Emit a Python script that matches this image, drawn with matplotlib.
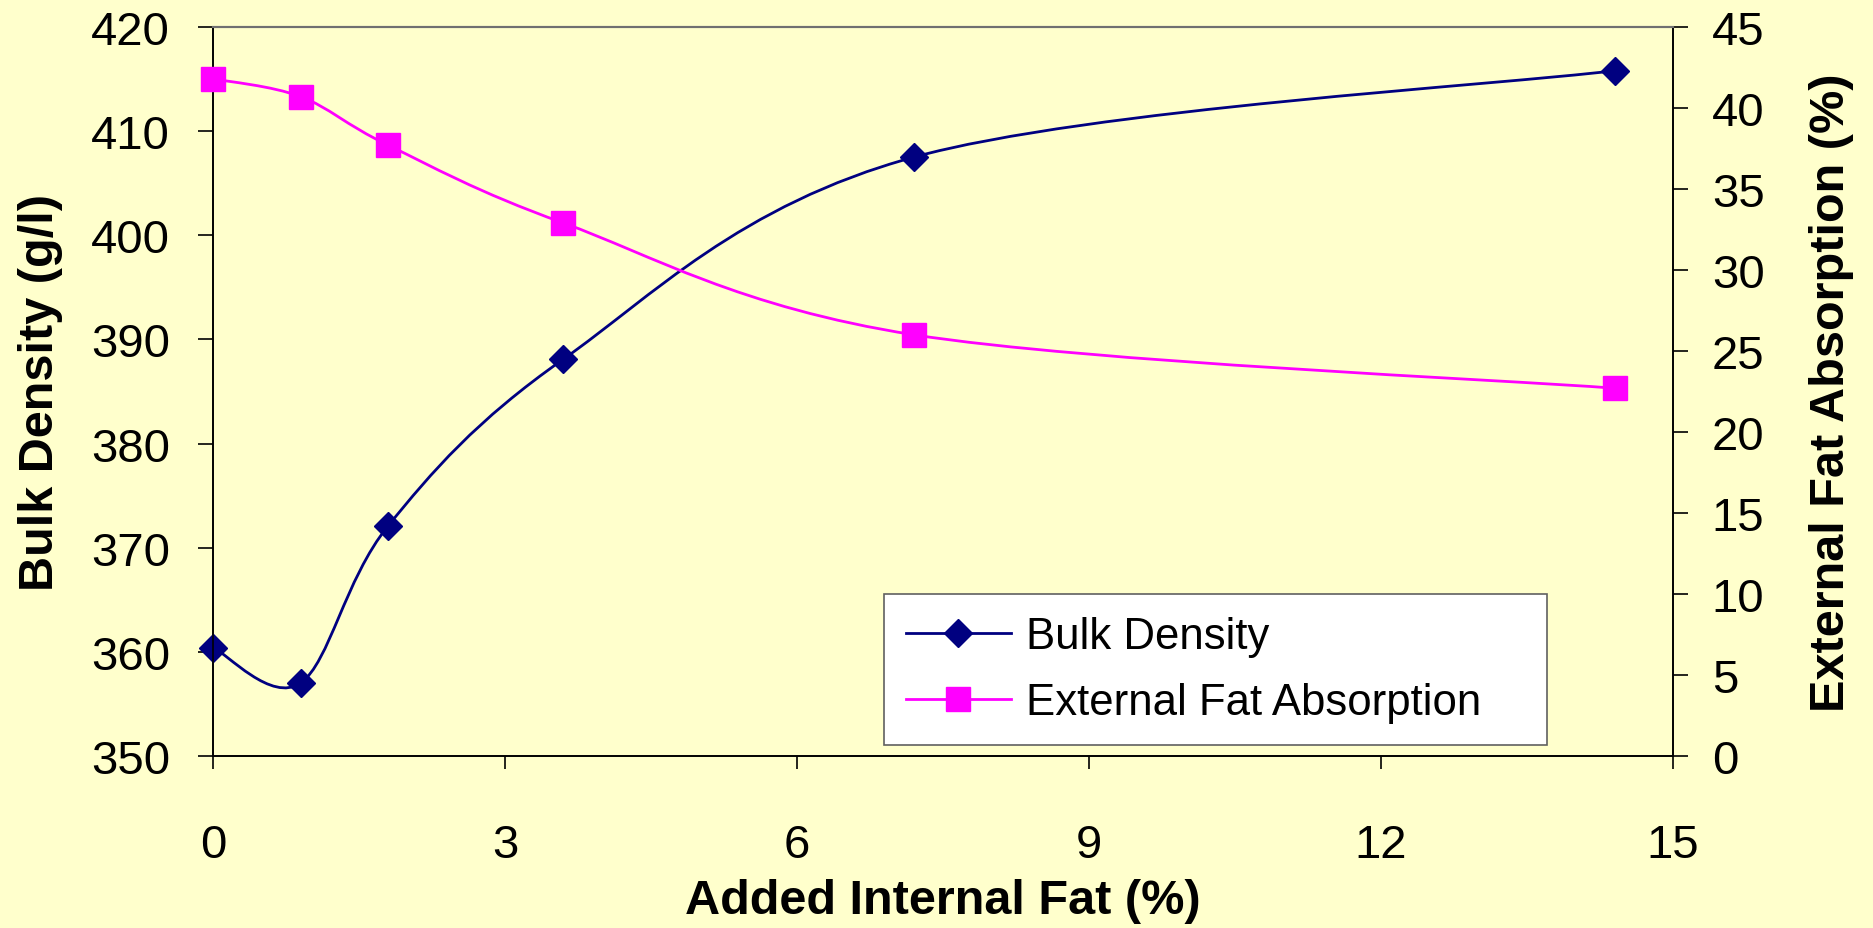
"""
Bulk density and external fat absorption against added internal fat
"""
import matplotlib
matplotlib.use("Agg")
import matplotlib.pyplot as plt
import numpy as np
from matplotlib.path import Path
from matplotlib.patches import PathPatch
from matplotlib.lines import Line2D

plt.rcParams['font.family'] = ['Liberation Sans', 'DejaVu Sans']

# data
internal_fat = [0, 0.9, 1.8, 3.6, 7.2, 14.4]
bulk_density = [360.4, 357.0, 372.1, 388.1, 407.5, 415.8]
fat_absorption = [41.8, 40.7, 37.7, 32.9, 26.0, 22.7]

x_ticks = [0, 3, 6, 9, 12, 15]
left_ticks = [350, 360, 370, 380, 390, 400, 410, 420]
right_ticks = [0, 5, 10, 15, 20, 25, 30, 35, 40, 45]

BG = '#FFFFCC'
NAVY = '#000080'
MAGENTA = '#FF00FF'


def smooth_path(xs, ys):
    # spreadsheet-style smoothed line: cubic bezier through every point
    pts = np.column_stack([xs, ys]).astype(float)
    n = len(pts)
    verts = [pts[0]]
    codes = [Path.MOVETO]
    for i in range(n - 1):
        p_prev = pts[max(i - 1, 0)]
        p0 = pts[i]
        p1 = pts[i + 1]
        p_next = pts[min(i + 2, n - 1)]
        c1 = p0 + (p1 - p_prev) / 6.0
        c2 = p1 - (p_next - p0) / 6.0
        verts += [c1, c2, p1]
        codes += [Path.CURVE4] * 3
    return Path(verts, codes)


fig = plt.figure(figsize=(18.73, 9.29), dpi=100, facecolor=BG)
ax1 = fig.add_axes([0.1137, 0.1852, 0.7795, 0.7847])
ax1.set_facecolor(BG)
ax2 = ax1.twinx()

ax1.set_xlim(0, 15)
ax1.set_ylim(350, 420)
ax2.set_ylim(0, 45)

# smoothed curves, then markers on top
ax1.add_patch(PathPatch(smooth_path(internal_fat, bulk_density), fill=False,
                        edgecolor=NAVY, lw=2.0, zorder=3))
ax1.plot(internal_fat, bulk_density, linestyle='none', marker='D', ms=14,
         color=NAVY, mec=NAVY, zorder=4, clip_on=False)
ax2.add_patch(PathPatch(smooth_path(internal_fat, fat_absorption), fill=False,
                        edgecolor=MAGENTA, lw=2.0, zorder=3))
ax2.plot(internal_fat, fat_absorption, linestyle='none', marker='s', ms=17,
         color=MAGENTA, mec=MAGENTA, zorder=4, clip_on=False)

# axes styling
ax1.set_xticks(x_ticks)
ax1.set_yticks(left_ticks)
ax2.set_yticks(right_ticks)
ax1.tick_params(axis='x', direction='out', length=9.5, width=1.2, pad=38.5,
                labelsize=34, colors='black')
ax1.tick_params(axis='y', direction='out', length=11, width=1.2, pad=20,
                labelsize=34, colors='black')
ax2.tick_params(axis='y', direction='out', length=11, width=1.2, pad=17,
                labelsize=34, colors='black')

for ax in (ax1, ax2):
    for side in ('left', 'right', 'bottom'):
        ax.spines[side].set_linewidth(1.2)
        ax.spines[side].set_color('black')
    ax.spines['top'].set_color('#707070')
    ax.spines['top'].set_linewidth(1.5)

ax1.set_xlabel('Added Internal Fat (%)', fontsize=35, fontweight='bold', labelpad=8.5)
ax1.set_ylabel('Bulk Density (g/l)', fontsize=35, fontweight='bold', labelpad=20)
ax2.set_ylabel('External Fat Absorption (%)', fontsize=35, fontweight='bold',
               labelpad=32, rotation=90)

handles = [
    Line2D([], [], color=NAVY, lw=2.0, marker='D', ms=14),
    Line2D([], [], color=MAGENTA, lw=2.0, marker='s', ms=17),
]
leg = ax1.legend(handles, ['Bulk Density', 'External Fat Absorption'],
                 loc='upper left', bbox_to_anchor=(0.4596, 0.0, 0.4541, 0.222),
                 mode='expand', fontsize=31.5, frameon=True, fancybox=False,
                 borderaxespad=0, handlelength=2.4, labelspacing=0.58,
                 borderpad=0.5, handletextpad=0.35)
leg.get_frame().set_facecolor('white')
leg.get_frame().set_edgecolor('#606060')
leg.get_frame().set_linewidth(1.2)
leg.get_frame().set_alpha(1)
leg.set_zorder(10)

fig.savefig('out.png', dpi=100, facecolor=BG)
